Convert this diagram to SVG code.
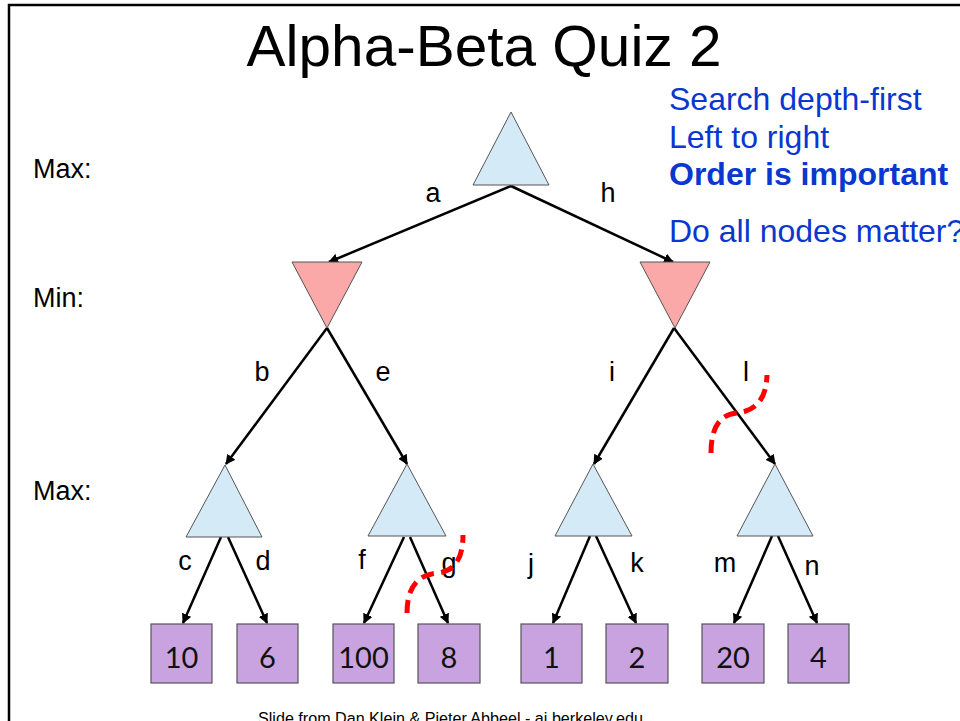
<svg xmlns="http://www.w3.org/2000/svg" width="960" height="721" viewBox="0 0 960 721">
<defs>
<marker id="ah" viewBox="0 0 10 10" refX="9" refY="5" markerWidth="4" markerHeight="4" orient="auto" markerUnits="strokeWidth">
<path d="M0,0 L10,5 L0,10 z" fill="#000"/>
</marker>
<style>
.max{fill:#d4eaf7;stroke:#555;stroke-width:1}
.min{fill:#fba8a8;stroke:#555;stroke-width:1}
.leaf{fill:#c9a3e0;stroke:#555;stroke-width:1.2}
.lt{font-family:Lato,"Open Sans",sans-serif;font-size:29px;fill:#111;text-anchor:middle}
.el{font-family:"Liberation Sans",Arial,sans-serif;font-size:27px;fill:#000;text-anchor:middle}
.lv{font-family:"Liberation Sans",Arial,sans-serif;font-size:27px;fill:#000}
.bl{font-family:"Liberation Sans",Arial,sans-serif;font-size:32px;fill:#0a37cf}
.edge{stroke:#000;stroke-width:2.5;fill:none;marker-end:url(#ah)}
.cut{stroke:#ff0000;stroke-width:5;fill:none;stroke-dasharray:13,7}
</style>
</defs>
<rect width="960" height="721" fill="#fff"/>
<path d="M9,721 V5 H960" fill="none" stroke="#000" stroke-width="2.5"/>
<text x="484" y="66" font-family="'Liberation Sans',Arial,sans-serif" font-size="57" text-anchor="middle" textLength="475" lengthAdjust="spacingAndGlyphs">Alpha-Beta Quiz 2</text>
<text class="lv" x="33" y="178">Max:</text>
<text class="lv" x="33" y="307">Min:</text>
<text class="lv" x="33" y="500">Max:</text>
<g id="notes">
<text class="bl" x="669" y="110">Search depth-first</text>
<text class="bl" x="669" y="148">Left to right</text>
<text class="bl" x="669" y="185" font-weight="bold">Order is important</text>
<text class="bl" x="669" y="242">Do all nodes matter?</text>
</g>
<g id="connectors">
<line class="edge" x1="511" y1="186" x2="329" y2="262"/>
<line class="edge" x1="511" y1="186" x2="673" y2="262"/>
<line class="edge" x1="327" y1="328" x2="226" y2="464"/>
<line class="edge" x1="327" y1="328" x2="407" y2="464"/>
<line class="edge" x1="674" y1="328" x2="594" y2="464"/>
<line class="edge" x1="674" y1="328" x2="775" y2="464"/>
<line class="edge" x1="221" y1="537" x2="183" y2="623"/>
<line class="edge" x1="228" y1="537" x2="267" y2="623"/>
<line class="edge" x1="404" y1="537" x2="364" y2="623"/>
<line class="edge" x1="410" y1="537" x2="448" y2="623"/>
<line class="edge" x1="590" y1="536" x2="553" y2="623"/>
<line class="edge" x1="596" y1="536" x2="636" y2="623"/>
<line class="edge" x1="772" y1="536" x2="734" y2="623"/>
<line class="edge" x1="778" y1="536" x2="817" y2="623"/>
</g>
<g id="edge-labels">
<text class="el" x="433" y="202">a</text>
<text class="el" x="608" y="202">h</text>
<text class="el" x="262" y="381">b</text>
<text class="el" x="383" y="381">e</text>
<text class="el" x="612" y="381">i</text>
<text class="el" x="746" y="381">l</text>
<text class="el" x="185" y="570">c</text>
<text class="el" x="263" y="570">d</text>
<text class="el" x="362" y="569">f</text>
<text class="el" x="449" y="572">g</text>
<text class="el" x="531" y="573">j</text>
<text class="el" x="637" y="572">k</text>
<text class="el" x="725" y="572">m</text>
<text class="el" x="812" y="575">n</text>
</g>
<g id="root"><polygon class="max" points="511,112 549,185 473,185"/></g>
<g id="minL"><polygon class="min" points="292,262 362,262 327,328"/></g>
<g id="minR"><polygon class="min" points="640,262 710,262 675,328"/></g>
<g id="max1"><polygon class="max" points="225,465 262,537 186,537"/></g>
<g id="max2"><polygon class="max" points="407,464 446,536 368,536"/></g>
<g id="max3"><polygon class="max" points="593,464 632,536 555,536"/></g>
<g id="max4"><polygon class="max" points="775,464 813,536 737,536"/></g>
<g id="leaf1"><rect class="leaf" x="151" y="624" width="61" height="59"/><text class="lt" x="181.5" y="668">10</text></g>
<g id="leaf2"><rect class="leaf" x="237" y="624" width="61" height="59"/><text class="lt" x="267.5" y="668">6</text></g>
<g id="leaf3"><rect class="leaf" x="333" y="624" width="61" height="59"/><text class="lt" x="363.5" y="668">100</text></g>
<g id="leaf4"><rect class="leaf" x="418" y="624" width="62" height="59"/><text class="lt" x="449" y="668">8</text></g>
<g id="leaf5"><rect class="leaf" x="521" y="624" width="61" height="59"/><text class="lt" x="551.5" y="668">1</text></g>
<g id="leaf6"><rect class="leaf" x="606" y="624" width="62" height="59"/><text class="lt" x="637" y="668">2</text></g>
<g id="leaf7"><rect class="leaf" x="702" y="624" width="62" height="59"/><text class="lt" x="733" y="668">20</text></g>
<g id="leaf8"><rect class="leaf" x="788" y="624" width="61" height="59"/><text class="lt" x="818.5" y="668">4</text></g>
<g id="cuts">
<path class="cut" d="M407,613 Q407,575 438,573 Q463,570 463,535"/>
<path class="cut" d="M711,453 Q711,415 737,413 Q766,410 767,375"/>
</g>
<text x="258" y="724" font-family="'Liberation Sans',Arial,sans-serif" font-size="16" textLength="385" lengthAdjust="spacingAndGlyphs">Slide from Dan Klein &amp;  Pieter Abbeel - ai.berkeley.edu</text>
</svg>
